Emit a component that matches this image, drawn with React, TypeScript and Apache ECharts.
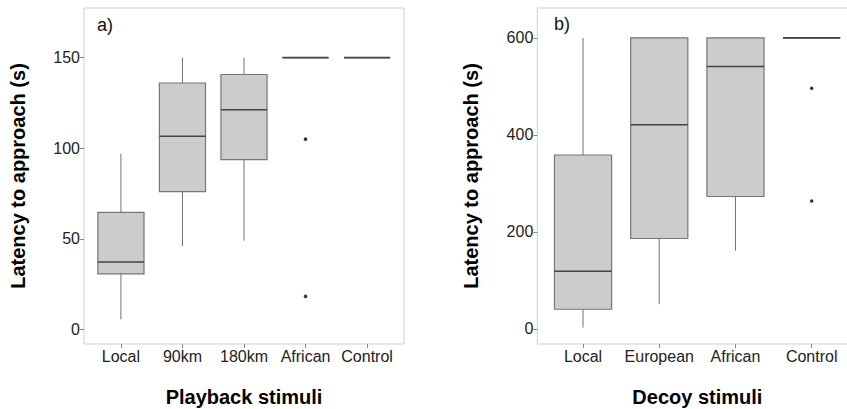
import React, { useEffect, useRef } from "react";
import * as echarts from "echarts";

// Panel a) Playback stimuli
const playbackCats = ["Local", "90km", "180km", "African", "Control"];
const playbackMin = [5.5, 46, 49, 150, 150];
const playbackQ1 = [30.6, 76, 93.7, 150, 150];
const playbackMed = [37.2, 106.6, 121.2, 150, 150];
const playbackQ3 = [64.6, 136, 140.7, 150, 150];
const playbackMax = [97, 150, 150, 150, 150];
const playbackOutlierCat = [3, 3];
const playbackOutlierVal = [105, 18.2];
const playbackTicks = [0, 50, 100, 150];

// Panel b) Decoy stimuli
const decoyCats = ["Local", "European", "African", "Control"];
const decoyMin = [2.7, 51, 161.6, 600];
const decoyQ1 = [40.6, 186.4, 273, 600];
const decoyMed = [119, 421, 540.8, 600];
const decoyQ3 = [358.5, 600, 600, 600];
const decoyMax = [600, 600, 600, 600];
const decoyOutlierCat = [3, 3];
const decoyOutlierVal = [496, 263.6];
const decoyTicks = [0, 200, 400, 600];

const FONT = "'Liberation Sans', Arial, sans-serif";

function boxData(mn: number[], q1: number[], md: number[], q3: number[], mx: number[]) {
  return mn.map((v, i) => [i, v, q1[i], md[i], q3[i], mx[i]]);
}

const renderBox = (params: any, api: any) => {
  const x = api.value(0);
  const lo = api.coord([x, api.value(1)]);
  const q1 = api.coord([x, api.value(2)]);
  const md = api.coord([x, api.value(3)]);
  const q3 = api.coord([x, api.value(4)]);
  const hi = api.coord([x, api.value(5)]);
  const w = api.size([0.75, 0])[0];
  const cx = q1[0];
  const whisker = { stroke: "#707070", lineWidth: 1 };
  return {
    type: "group",
    children: [
      { type: "line", shape: { x1: cx, y1: lo[1], x2: cx, y2: q1[1] }, style: whisker },
      { type: "line", shape: { x1: cx, y1: q3[1], x2: cx, y2: hi[1] }, style: whisker },
      {
        type: "rect",
        shape: { x: cx - w / 2, y: q3[1], width: w, height: q1[1] - q3[1] },
        style: { fill: "#cccccc", stroke: "#777777", lineWidth: 1.2 },
      },
      {
        type: "line",
        shape: { x1: cx - w / 2, y1: md[1], x2: cx + w / 2, y2: md[1] },
        style: { stroke: "#444444", lineWidth: 1.6 },
      },
    ],
  };
};

function xAxisFor(gridIndex: number, cats: string[], name: string) {
  const idx = cats.map((_, i) => i);
  return {
    type: "value",
    gridIndex,
    min: -0.6,
    max: cats.length - 1 + 0.6,
    name,
    nameLocation: "middle",
    nameGap: 43,
    nameTextStyle: { fontFamily: FONT, fontSize: 20, fontWeight: "bold", color: "#000" },
    splitLine: { show: false },
    axisLine: { show: false, onZero: false },
    axisTick: { show: true, length: 4, customValues: idx, lineStyle: { color: "#888" } },
    axisLabel: {
      customValues: idx,
      formatter: (v: number) => cats[Math.round(v)] ?? "",
      fontFamily: FONT,
      fontSize: 16,
      color: "#222",
      margin: 4,
    },
  };
}

function yAxisFor(gridIndex: number, min: number, max: number, ticks: number[], gap: number) {
  return {
    type: "value",
    gridIndex,
    min,
    max,
    name: "Latency to approach (s)",
    nameLocation: "middle",
    nameGap: gap,
    nameTextStyle: { fontFamily: FONT, fontSize: 20, fontWeight: "bold", color: "#000" },
    splitLine: { show: false },
    axisLine: { show: false, onZero: false },
    axisTick: { show: true, length: 4, customValues: ticks, lineStyle: { color: "#888" } },
    axisLabel: {
      customValues: ticks,
      fontFamily: FONT,
      fontSize: 16,
      color: "#222",
      margin: 4,
    },
  };
}

export default function App() {
  const ref = useRef<HTMLDivElement>(null);
  useEffect(() => {
    if (!ref.current) return;
    const chart = echarts.init(ref.current, undefined, { renderer: "svg" });
    chart.setOption({
      animation: false,
      backgroundColor: "#fff",
      grid: [
        { left: 84, top: 8, width: 320, height: 336, outerBoundsMode: "none", containLabel: false, show: true, borderColor: "#cfcfcf", borderWidth: 1, backgroundColor: "transparent" },
        { left: 537.3, top: 8, width: 320.1, height: 336, outerBoundsMode: "none", containLabel: false, show: true, borderColor: "#cfcfcf", borderWidth: 1, backgroundColor: "transparent" },
      ],
      xAxis: [
        xAxisFor(0, playbackCats, "Playback stimuli"),
        xAxisFor(1, decoyCats, "Decoy stimuli"),
      ],
      yAxis: [
        yAxisFor(0, -8.1, 177.4, playbackTicks, 56),
        yAxisFor(1, -31, 661.5, decoyTicks, 56),
      ],
      series: [
        {
          type: "custom",
          xAxisIndex: 0,
          yAxisIndex: 0,
          renderItem: renderBox,
          data: boxData(playbackMin, playbackQ1, playbackMed, playbackQ3, playbackMax),
        },
        {
          type: "scatter",
          xAxisIndex: 0,
          yAxisIndex: 0,
          symbolSize: 3.5,
          itemStyle: { color: "#000" },
          data: playbackOutlierCat.map((c, i) => [c, playbackOutlierVal[i]]),
        },
        {
          type: "custom",
          xAxisIndex: 1,
          yAxisIndex: 1,
          renderItem: renderBox,
          data: boxData(decoyMin, decoyQ1, decoyMed, decoyQ3, decoyMax),
        },
        {
          type: "scatter",
          xAxisIndex: 1,
          yAxisIndex: 1,
          symbolSize: 3.5,
          itemStyle: { color: "#000" },
          data: decoyOutlierCat.map((c, i) => [c, decoyOutlierVal[i]]),
        },
      ],
      graphic: [
        { type: "text", left: 97, top: 16, style: { text: "a)", fontFamily: FONT, fontSize: 18, fill: "#111" } },
        { type: "text", left: 554, top: 15, style: { text: "b)", fontFamily: FONT, fontSize: 18, fill: "#111" } },
      ],
    });
    return () => chart.dispose();
  }, []);
  return (
    <div
      ref={ref}
      style={{ position: "fixed", left: 0, top: 0, width: 847, height: 409, overflow: "hidden" }}
    />
  );
}
